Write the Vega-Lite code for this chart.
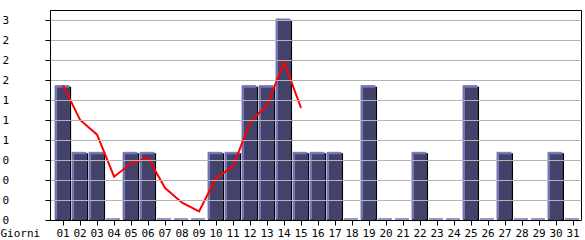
{
  "$schema": "https://vega.github.io/schema/vega-lite/v6.json",
  "autosize": "none",
  "width": 531,
  "height": 210,
  "padding": {"left": 50, "top": 10, "right": 4, "bottom": 20},
  "background": "white",
  "config": {
    "view": {"stroke": "black", "strokeWidth": 1},
    "font": "DejaVu Sans Mono"
  },
  "data": {
    "values": [
      {"giorno": "01", "visite": 2, "media": 2.02},
      {"giorno": "02", "visite": 1, "media": 1.5},
      {"giorno": "03", "visite": 1, "media": 1.28},
      {"giorno": "04", "visite": 0, "media": 0.65},
      {"giorno": "05", "visite": 1, "media": 0.85},
      {"giorno": "06", "visite": 1, "media": 0.93},
      {"giorno": "07", "visite": 0, "media": 0.48},
      {"giorno": "08", "visite": 0, "media": 0.26},
      {"giorno": "09", "visite": 0, "media": 0.13},
      {"giorno": "10", "visite": 1, "media": 0.63},
      {"giorno": "11", "visite": 1, "media": 0.8},
      {"giorno": "12", "visite": 2, "media": 1.47},
      {"giorno": "13", "visite": 2, "media": 1.72},
      {"giorno": "14", "visite": 3, "media": 2.37},
      {"giorno": "15", "visite": 1, "media": 1.68},
      {"giorno": "16", "visite": 1, "media": null},
      {"giorno": "17", "visite": 1, "media": null},
      {"giorno": "18", "visite": 0, "media": null},
      {"giorno": "19", "visite": 2, "media": null},
      {"giorno": "20", "visite": 0, "media": null},
      {"giorno": "21", "visite": 0, "media": null},
      {"giorno": "22", "visite": 1, "media": null},
      {"giorno": "23", "visite": 0, "media": null},
      {"giorno": "24", "visite": 0, "media": null},
      {"giorno": "25", "visite": 2, "media": null},
      {"giorno": "26", "visite": 0, "media": null},
      {"giorno": "27", "visite": 1, "media": null},
      {"giorno": "28", "visite": 0, "media": null},
      {"giorno": "29", "visite": 0, "media": null},
      {"giorno": "30", "visite": 1, "media": null},
      {"giorno": "31", "visite": 0, "media": null}
    ]
  },
  "encoding": {
    "x": {
      "field": "giorno",
      "type": "ordinal",
      "scale": {"paddingInner": 0.0588, "paddingOuter": 0.15, "align": 1},
      "axis": {
        "title": "Giorni",
        "titleX": -50,
        "titleY": 16,
        "titleAlign": "left",
        "titleAnchor": null,
        "titleBaseline": "alphabetic",
        "titleFont": "DejaVu Sans Mono",
        "titleFontSize": 11,
        "titleFontWeight": "normal",
        "titleColor": "black",
        "labelAngle": 0,
        "labelFont": "DejaVu Sans Mono",
        "labelFontSize": 11,
        "labelColor": "black",
        "labelPadding": 2,
        "tickColor": "black",
        "tickSize": 5,
        "domainColor": "black",
        "zindex": 1
      }
    },
    "y": {
      "type": "quantitative",
      "scale": {"domain": [0, 3.15], "nice": false, "zero": true},
      "axis": {
        "title": null,
        "values": [0, 0.3, 0.6, 0.9, 1.2, 1.5, 1.8, 2.1, 2.4, 2.7, 3.0],
        "labelExpr": "floor(datum.value + 0.000001)",
        "labelAlign": "left",
        "labelPadding": 43,
        "labelFont": "DejaVu Sans Mono",
        "labelFontSize": 11,
        "labelColor": "black",
        "tickColor": "black",
        "tickSize": 5,
        "domainColor": "black",
        "gridColor": "#b4b4b4",
        "gridOpacity": 1,
        "zindex": 1
      }
    }
  },
  "layer": [
    {
      "mark": {"type": "bar", "color": "black", "width": {"band": 1}},
      "encoding": {"y": {"field": "visite", "type": "quantitative"}}
    },
    {
      "mark": {"type": "bar", "color": "#7676b4", "stroke": "#7676b4", "strokeWidth": 1, "width": 14, "xOffset": -1, "yOffset": -1},
      "encoding": {"y": {"field": "visite", "type": "quantitative"}}
    },
    {
      "mark": {"type": "bar", "color": "#42426a", "width": 12, "xOffset": 0, "yOffset": 1},
      "encoding": {"y": {"field": "visite", "type": "quantitative"}}
    },
    {
      "mark": {"type": "line", "color": "#ff0000", "strokeWidth": 2},
      "encoding": {"y": {"field": "media", "type": "quantitative"}}
    }
  ]
}
